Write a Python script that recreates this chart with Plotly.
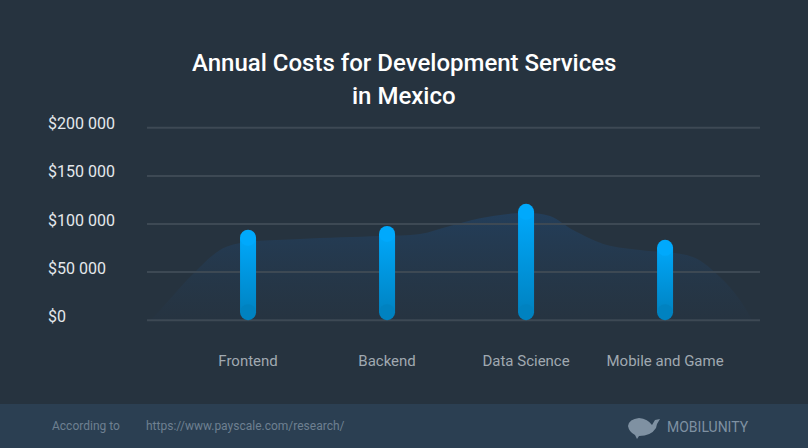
import plotly.graph_objects as go

# ---- data ----
categories = ["Frontend", "Backend", "Data Science", "Mobile and Game"]
costs = [94000, 98000, 121000, 83500]
y_tickvals = [0, 50000, 100000, 150000, 200000]
y_ticktext = ["$0", "$50 000", "$100 000", "$150 000", "$200 000"]
# decorative background "mountain" (category-axis units, USD)
bg_x = [-0.705, -0.633, -0.418, -0.202, -0.058, 0.374, 0.949, 1.237, 1.453,
        1.669, 1.978, 2.172, 2.338, 2.582, 2.82, 3.2, 3.395, 3.54, 3.626]
bg_y = [0, 10400, 44800, 72900, 80200, 84400, 87500, 89600, 97900,
        106000, 111500, 108300, 93750, 78100, 72900, 65600, 44800, 20800, 0]

BG = "#26333f"
FOOT = "#2b3f52"
TOP_C = "#00abff"
BOT_C = "#0080bd"
GRID = "#3d4954"

# layout geometry
W, H = 808, 448
ML, MR, MT, MB = 147, 48, 124, 124
PW, PH = W - ML - MR, H - MT - MB
XR = [-0.727, 3.683]
YR = [-4000, 204000]
px_per_x = PW / (XR[1] - XR[0])
px_per_y = PH / (YR[1] - YR[0])
bar_half = 8 / px_per_x
r_data = 8 / px_per_y


def pxx(px):  # page pixel -> paper x
    return (px - ML) / PW


def pxy(py):  # page pixel -> paper y
    return (H - MB - py) / PH


fig = go.Figure()

fig.add_trace(go.Scatter(
    x=bg_x, y=bg_y, mode="lines", line=dict(width=0, shape="spline", smoothing=1.0),
    fill="tozeroy",
    fillgradient=dict(type="vertical", start=0, stop=112000,
                      colorscale=[[0, "rgba(38,52,66,0.6)"], [1, "rgba(35,62,90,1)"]]),
    hoverinfo="skip", showlegend=False))

# gridlines drawn over the background shape
for tv in y_tickvals:
    fig.add_trace(go.Scatter(
        x=XR, y=[tv, tv], mode="lines", line=dict(color=GRID, width=2),
        hoverinfo="skip", showlegend=False))

for i, v in enumerate(costs):
    lo, hi = r_data, v - r_data
    fig.add_trace(go.Scatter(
        x=[i - bar_half, i + bar_half, i + bar_half, i - bar_half, i - bar_half],
        y=[lo, lo, hi, hi, lo], mode="lines", line=dict(width=0),
        fill="toself",
        fillgradient=dict(type="vertical", start=0, stop=v,
                          colorscale=[[0, BOT_C], [1, TOP_C]]),
        hoverinfo="skip", showlegend=False))
    fig.add_trace(go.Scatter(
        x=[i, i], y=[lo, hi], mode="markers",
        marker=dict(size=16, color=["#0082c0", "#00a9fc"], line=dict(width=0)),
        hoverinfo="skip", showlegend=False))

annotations = []
for tv, tt in zip(y_tickvals, y_ticktext):
    annotations.append(dict(x=pxx(46), xref="paper", y=tv, yref="y", text=tt,
                            showarrow=False, xanchor="left", yanchor="middle", yshift=4,
                            font=dict(family="Roboto", size=16, color="#e4e8ec")))

TITLE_FONT = dict(family="Roboto", size=24, color="#ffffff", weight=500)
annotations += [
    dict(x=pxx(404), xref="paper", y=pxy(63), yref="paper",
         text="Annual Costs for Development Services",
         showarrow=False, xanchor="center", yanchor="middle", font=TITLE_FONT),
    dict(x=pxx(404), xref="paper", y=pxy(96), yref="paper", text="in Mexico",
         showarrow=False, xanchor="center", yanchor="middle", font=TITLE_FONT),
    dict(x=pxx(50), xref="paper", y=pxy(426), yref="paper",
         text="According to", showarrow=False, xanchor="left", yanchor="middle",
         font=dict(family="Roboto", size=12, color="#6e8091")),
    dict(x=pxx(144), xref="paper", y=pxy(426), yref="paper",
         text="https://www.payscale.com/research/", showarrow=False, xanchor="left",
         yanchor="middle", font=dict(family="Roboto", size=12, color="#6e8091")),
    dict(x=pxx(665), xref="paper", y=pxy(427), yref="paper",
         text="MOBILUNITY", showarrow=False, xanchor="left", yanchor="middle",
         font=dict(family="Roboto", size=14, color="#7f91a2")),
]

# footer band + logo
shapes = [
    dict(type="rect", xref="paper", yref="paper",
         x0=pxx(-2), x1=pxx(W + 2), y0=pxy(H + 2), y1=pxy(404),
         fillcolor=FOOT, line=dict(width=0), layer="below"),
    dict(type="path", xref="paper", yref="paper", xsizemode="pixel", ysizemode="pixel",
         xanchor=pxx(644), yanchor=pxy(428),
         path="M -16,2 Q -15,9 -5,10 Q 4,9 8,3 L 11,8 L 16,9 L 13,4 L 12,0 Q 7,-8 -5,-8 L -7,-11 L -9,-7 Q -15,-4 -16,2 Z",
         fillcolor="#7f91a2", line=dict(width=0), layer="above"),
]

fig.update_layout(
    width=W, height=H, margin=dict(l=ML, r=MR, t=MT, b=MB),
    paper_bgcolor=BG, plot_bgcolor=BG, showlegend=False,
    annotations=annotations, shapes=shapes,
    xaxis=dict(range=XR, tickvals=list(range(len(categories))), ticktext=categories,
               showgrid=False, zeroline=False, showline=False, ticks="",
               ticklabelstandoff=26, fixedrange=True,
               tickfont=dict(family="Roboto", size=15, color="#a0a9b1")),
    yaxis=dict(range=YR, tickvals=y_tickvals, showticklabels=False,
               showgrid=False, zeroline=False, showline=False, fixedrange=True),
)

fig.write_html("out.html")
